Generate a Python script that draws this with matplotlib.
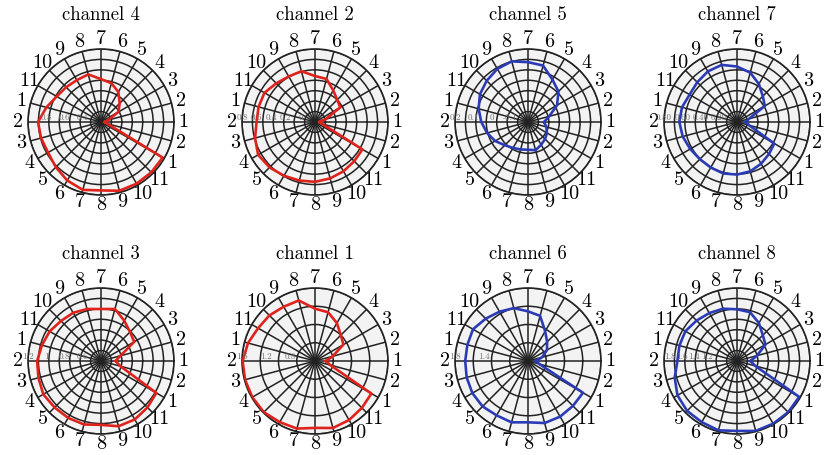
import numpy as np
import matplotlib.pyplot as plt

plt.rcParams['font.family'] = ['cmr10', 'DejaVu Serif']
plt.rcParams['axes.formatter.use_mathtext'] = True

# 24 spokes, 15 deg apart; spoke labels wrap round 1..11
theta_deg = np.arange(0, 360, 15)
theta_labels = ['1', '2', '3', '4', '5', '6', '7', '8', '9', '10', '11', '1',
                '2', '3', '4', '5', '6', '7', '8', '9', '10', '11', '1', '2']

# response per spoke (k = 0..23, starting at 0 deg, counter-clockwise)
ch4 = [0.24, 0.28, 0.42, 0.49, 0.58, 0.64, 0.67, 0.74, 0.73, 0.74, 0.76, 0.82,
       0.89, 0.88, 0.87, 0.90, 0.94, 0.97, 0.95, 0.98, 0.98, 0.98, 0.98, 0.27]
ch2 = [-0.14, -0.05, 0.20, 0.23, 0.30, 0.41, 0.43, 0.52, 0.52, 0.55, 0.60, 0.60,
       0.60, 0.65, 0.70, 0.68, 0.65, 0.63, 0.62, 0.60, 0.58, 0.56, 0.55, -0.10]
ch5 = [-0.112, -0.080, -0.016, 0.036, 0.068, 0.120, 0.128, 0.144, 0.136, 0.120, 0.104, 0.080,
       0.056, 0.032, 0.008, -0.020, -0.036, -0.044, -0.048, -0.040, -0.056, -0.068, -0.080, -0.096]
ch7 = [0.096, 0.136, 0.352, 0.400, 0.480, 0.560, 0.608, 0.648, 0.640, 0.616, 0.600, 0.624,
       0.632, 0.616, 0.592, 0.576, 0.576, 0.584, 0.576, 0.560, 0.528, 0.496, 0.472, 0.136]
ch3 = [0.56, 0.62, 0.82, 0.85, 0.91, 0.99, 0.97, 0.99, 1.01, 1.02, 1.05, 1.07,
       1.10, 1.11, 1.13, 1.12, 1.12, 1.12, 1.10, 1.14, 1.14, 1.12, 1.10, 0.62]
ch1 = [0.58, 0.70, 0.94, 1.00, 1.12, 1.23, 1.26, 1.43, 1.43, 1.46, 1.48, 1.54,
       1.59, 1.59, 1.59, 1.59, 1.56, 1.55, 1.50, 1.54, 1.52, 1.49, 1.47, 0.66]
ch6 = [0.91, 1.00, 1.10, 1.17, 1.27, 1.44, 1.48, 1.55, 1.58, 1.62, 1.67, 1.66,
       1.66, 1.67, 1.68, 1.68, 1.66, 1.67, 1.64, 1.68, 1.68, 1.67, 1.67, 0.96]
ch8 = [0.92, 1.04, 1.24, 1.30, 1.42, 1.53, 1.55, 1.59, 1.61, 1.64, 1.68, 1.68,
       1.68, 1.76, 1.83, 1.86, 1.86, 1.88, 1.85, 1.89, 1.89, 1.89, 1.88, 1.01]

titles = ['channel 4', 'channel 2', 'channel 5', 'channel 7',
          'channel 3', 'channel 1', 'channel 6', 'channel 8']
series = [ch4, ch2, ch5, ch7, ch3, ch1, ch6, ch8]
r_lo = [0.2, -0.2, -0.2, 0.0, 0.4, 0.4, 0.8, 0.7]
r_hi = [1.0, 0.8, 0.2, 0.8, 1.2, 1.6, 1.8, 1.9]
n_rings = [7, 7, 7, 7, 7, 4, 4, 7]
r_labels = [
    ['0.4', '0.6', '0.8'],
    ['0', '0.2', '0.4', '0.6', '0.8'],
    ['-0.1', '0', '0.1', '0.2'],
    ['0.20', '0.40', '0.60', '0.80'],
    ['0.6', '0.8', '1', '1.2'],
    ['0.8', '1.2', '1.6'],
    ['1.4', '1.8'],
    ['1.2', '1.4', '1.6', '1.8'],
]

RED = '#e0221c'
BLUE = '#2b3bb5'
colors = [RED, RED, BLUE, BLUE, RED, RED, BLUE, BLUE]

W, H = 830, 455
col_cx = [101, 315, 528, 737]
row_cy = [122, 361]
R = 73

fig = plt.figure(figsize=(W / 100, H / 100), dpi=100)

for i, (title, vals) in enumerate(zip(titles, series)):
    cx = col_cx[i % 4]
    cy = row_cy[i // 4]
    ax = fig.add_axes([(cx - R) / W, (H - cy - R) / H, 2 * R / W, 2 * R / H],
                      projection='polar')
    ax.set_facecolor('#f3f3f3')

    th = np.deg2rad(np.append(theta_deg, theta_deg[0]))
    rv = np.append(vals, vals[0])
    ax.plot(th, rv, color=colors[i], lw=1.9, zorder=4)

    lo, hi = r_lo[i], r_hi[i]
    ax.set_rorigin(lo)
    ax.set_rlim(lo, hi)
    rings = np.linspace(lo, hi, n_rings[i] + 1)[1:]
    ax.set_yticks(rings)
    ax.set_yticklabels([])

    ax.set_thetagrids(theta_deg, theta_labels, fontsize=14.5)
    ax.tick_params(axis='x', pad=0, length=0)
    ax.grid(True, color='#222222', lw=1.1)
    ax.spines['polar'].set_color('#222222')
    ax.spines['polar'].set_linewidth(1.2)

    for lab in r_labels[i]:
        ax.text(np.pi, float(lab), lab, ha='center', va='bottom',
                fontsize=6.5, color='#707070', fontweight='bold', zorder=5)

    ax.set_title(title, fontsize=13.5, y=1.2, pad=0)

fig.savefig('out.png', dpi=100)
